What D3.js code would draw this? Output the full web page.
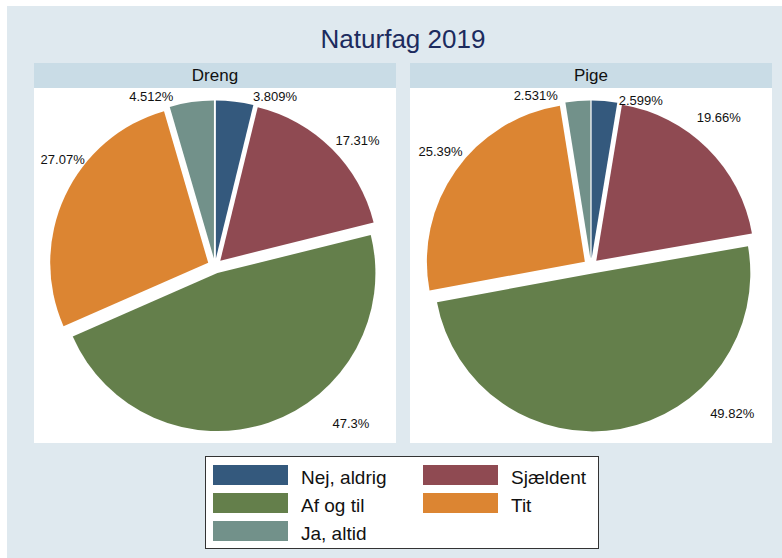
<!DOCTYPE html>
<html>
<head>
<meta charset="utf-8">
<script src="https://cdn.jsdelivr.net/npm/d3@7"></script>
<style>
  body { margin: 0; background: #fff; }
  text { font-family: "Liberation Sans", Arial, Helvetica, sans-serif; }
</style>
</head>
<body>
<script>
var width = 782;
var height = 558;

// data
var categories = ["Nej, aldrig", "Sjældent", "Af og til", "Tit", "Ja, altid"];
var panels = ["Dreng", "Pige"];
var drengValues = [3.809, 17.31, 47.3, 27.07, 4.512];
var pigeValues = [2.599, 19.66, 49.82, 25.39, 2.531];
var title = "Naturfag 2019";

var colors = ["#34597d", "#8f4a52", "#647f4b", "#dc8532", "#72918a"];

// label placement (angle in degrees from 12 o'clock, distance from centre)
var labelPlace = {
  "Dreng": [[19.5, 180], [48.6, 190], [139.2, 208], [305, 186], [339.4, 181]],
  "Pige": [[16.7, 173], [40.7, 196], [136.2, 204], [307.2, 189], [342, 179]]
};

var panelW = 362, panelTop = 63, headH = 25, panelBottom = 443;
var panelX = {"Dreng": 34, "Pige": 410};
var radius = 158, explode = 7.5;
var fmt = d3.format(".4~g");

var svg = d3.select("body").append("svg")
    .attr("width", width)
    .attr("height", height);

// outer background
svg.append("rect")
    .attr("x", 7).attr("y", 6)
    .attr("width", width - 7).attr("height", height - 6)
    .attr("fill", "#dfe9ef");

svg.append("text")
    .attr("x", 403)
    .attr("y", 48)
    .attr("text-anchor", "middle")
    .attr("font-size", 26)
    .attr("fill", "#1c2b5e")
    .text(title);

var pie = d3.pie().sort(null).value(function(d) { return d; });
var arc = d3.arc().innerRadius(0).outerRadius(radius);

panels.forEach(function(p) {
  var values = p == "Dreng" ? drengValues : pigeValues;
  var x0 = panelX[p];
  var g = svg.append("g");

  g.append("rect")
      .attr("x", x0).attr("y", panelTop)
      .attr("width", panelW).attr("height", headH)
      .attr("fill", "#c9dce6");
  g.append("text")
      .attr("x", x0 + panelW / 2)
      .attr("y", 81)
      .attr("text-anchor", "middle")
      .attr("font-size", 17)
      .attr("fill", "#111")
      .text(p);
  g.append("rect")
      .attr("x", x0).attr("y", panelTop + headH)
      .attr("width", panelW).attr("height", panelBottom - panelTop - headH)
      .attr("fill", "#fff");

  var cx = x0 + panelW / 2, cy = 266;
  var pieG = g.append("g").attr("transform", "translate(" + cx + "," + cy + ")");

  pieG.selectAll("path")
      .data(pie(values))
      .enter().append("path")
      .attr("d", arc)
      .attr("fill", function(d, i) { return colors[i]; })
      .attr("transform", function(d) {
        var mid = (d.startAngle + d.endAngle) / 2;
        return "translate(" + (Math.sin(mid) * explode) + "," + (-Math.cos(mid) * explode) + ")";
      });

  pieG.selectAll("text")
      .data(values)
      .enter().append("text")
      .attr("x", function(d, i) { return Math.sin(labelPlace[p][i][0] * Math.PI / 180) * labelPlace[p][i][1]; })
      .attr("y", function(d, i) { return -Math.cos(labelPlace[p][i][0] * Math.PI / 180) * labelPlace[p][i][1] + 4.6; })
      .attr("text-anchor", "middle")
      .attr("font-size", 13)
      .attr("fill", "#111")
      .text(function(d) { return fmt(d) + "%"; });
});

// legend
var legend = svg.append("g");
legend.append("rect")
    .attr("x", 205.5).attr("y", 456.5)
    .attr("width", 393).attr("height", 92)
    .attr("fill", "#fff")
    .attr("stroke", "#333")
    .attr("stroke-width", 1);

var item = legend.selectAll("g.item")
    .data(categories)
    .enter().append("g")
    .attr("class", "item")
    .attr("transform", function(d, i) {
      return "translate(" + (i % 2 == 0 ? 213 : 423) + "," + (465 + Math.floor(i / 2) * 28) + ")";
    });

item.append("rect")
    .attr("width", 75).attr("height", 20)
    .attr("fill", function(d, i) { return colors[i]; });

item.append("text")
    .attr("x", 88)
    .attr("y", 18.5)
    .attr("font-size", 19)
    .attr("fill", "#111")
    .text(function(d) { return d; });
</script>
</body>
</html>
